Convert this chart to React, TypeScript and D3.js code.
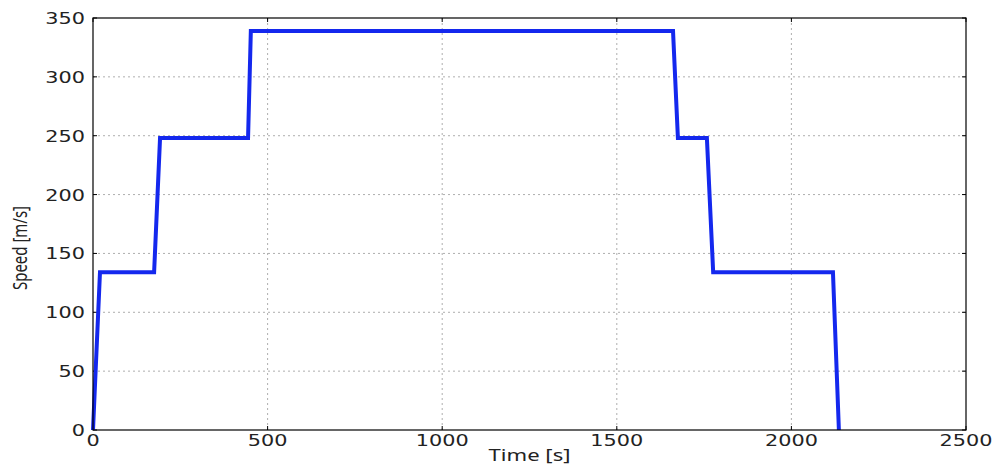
import * as d3 from 'd3';
import React from 'react';
import { useEffect, useRef } from 'react';

// speed profile
const times = [0, 20, 175, 192, 444, 452, 1661, 1675, 1758, 1776, 2119, 2136];
const speeds = [0, 134, 134, 248, 248, 339, 339, 248, 248, 134, 134, 0];
const xTicks = [0, 500, 1000, 1500, 2000, 2500];
const yTicks = [0, 50, 100, 150, 200, 250, 300, 350];

const width = 995;
const height = 466;
const margin = { top: 18, right: 29, bottom: 36, left: 93 };

function doChart(node: SVGSVGElement) {
  const svg = d3.select(node);
  svg.selectAll('*').remove();

  const x = d3.scaleLinear().domain([0, 2500]).range([margin.left, width - margin.right]);
  const y = d3.scaleLinear().domain([0, 350]).range([height - margin.bottom, margin.top]);

  const data = times.map((t, i) => ({ t, v: speeds[i] }));

  // grid
  svg.append('g')
    .selectAll('line')
    .data(xTicks.slice(1, -1))
    .join('line')
    .attr('x1', d => x(d)).attr('x2', d => x(d))
    .attr('y1', y(0)).attr('y2', y(350))
    .attr('stroke', '#999').attr('stroke-width', 0.8)
    .attr('stroke-dasharray', '2,3');
  svg.append('g')
    .selectAll('line')
    .data(yTicks.slice(1, -1))
    .join('line')
    .attr('y1', d => y(d)).attr('y2', d => y(d))
    .attr('x1', x(0)).attr('x2', x(2500))
    .attr('stroke', '#999').attr('stroke-width', 0.8)
    .attr('stroke-dasharray', '2,3');

  // inward ticks on all sides
  const tk = svg.append('g').attr('stroke', '#000').attr('stroke-width', 1);
  xTicks.forEach(d => {
    tk.append('line').attr('x1', x(d)).attr('x2', x(d)).attr('y1', y(0)).attr('y2', y(0) - 4);
    tk.append('line').attr('x1', x(d)).attr('x2', x(d)).attr('y1', y(350)).attr('y2', y(350) + 4);
  });
  yTicks.forEach(d => {
    tk.append('line').attr('y1', y(d)).attr('y2', y(d)).attr('x1', x(0)).attr('x2', x(0) + 4);
    tk.append('line').attr('y1', y(d)).attr('y2', y(d)).attr('x1', x(2500)).attr('x2', x(2500) - 4);
  });

  const line = d3.line<{ t: number; v: number }>()
    .x(d => x(d.t))
    .y(d => y(d.v));

  svg.append('path')
    .datum(data)
    .attr('fill', 'none')
    .attr('stroke', '#1428ee')
    .attr('stroke-width', 4)
    .attr('stroke-linejoin', 'miter')
    .attr('d', line);

  // frame
  svg.append('rect')
    .attr('x', x(0)).attr('y', y(350))
    .attr('width', x(2500) - x(0)).attr('height', y(0) - y(350))
    .attr('fill', 'none').attr('stroke', '#000').attr('stroke-width', 1.2);

  // tick labels (the picture is stretched sideways, so the text is too)
  const font = 'DejaVu Sans';
  svg.append('g')
    .selectAll('text')
    .data(xTicks)
    .join('text')
    .attr('transform', d => `translate(${x(d)},${y(0) + 16}) scale(1.3,1)`)
    .attr('text-anchor', 'middle')
    .attr('font-family', font).attr('font-size', 16).attr('fill', '#222')
    .text(d => d);
  svg.append('g')
    .selectAll('text')
    .data(yTicks)
    .join('text')
    .attr('transform', d => `translate(${x(0) - 8},${y(d) + 6}) scale(1.3,1)`)
    .attr('text-anchor', 'end')
    .attr('font-family', font).attr('font-size', 16).attr('fill', '#222')
    .text(d => d);

  svg.append('text')
    .attr('transform', `translate(${(x(0) + x(2500)) / 2},${height - 5}) scale(1.3,1)`)
    .attr('text-anchor', 'middle')
    .attr('font-family', 'Noto Sans').attr('font-size', 17).attr('fill', '#222')
    .text('Time [s]');

  svg.append('text')
    .attr('transform', `translate(27,${(y(0) + y(350)) / 2 + 24}) rotate(-90) scale(1,1.3)`)
    .attr('text-anchor', 'middle')
    .attr('font-family', 'Noto Sans').attr('font-size', 15).attr('fill', '#222')
    .text('Speed [m/s]');
}

export default function App() {
  const ref = useRef<SVGSVGElement>(null);
  useEffect(() => {
    if (ref.current) doChart(ref.current);
  });
  return (
    <svg ref={ref} width={width} height={height}
      style={{ position: 'absolute', left: 0, top: 0, background: '#fff' }} />
  );
}
